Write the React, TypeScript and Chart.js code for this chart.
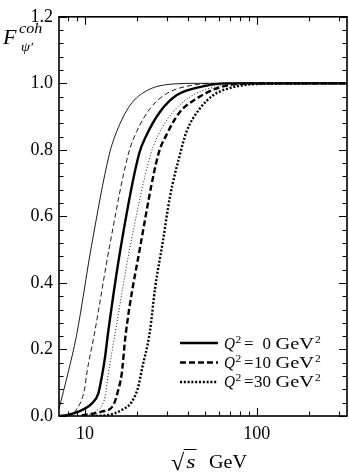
import React, { useEffect, useRef } from 'react';
import { Chart, registerables } from 'chart.js';
Chart.register(...registerables);

// ---- data (sqrt(s) in GeV, coherent form factor F) ----
const sThinSolid = [7.06, 7.94, 8.95, 10.9, 13.85, 15.3, 18.3, 22.9, 32.6, 45, 100, 335];
const fThinSolid = [0.022, 0.126, 0.245, 0.51, 0.786, 0.855, 0.934, 0.978, 0.998, 1.0, 1.0, 1.0];

const sThinDashed = [7.06, 8.2, 8.75, 10.0, 10.23, 11.33, 13.9, 17.85, 20.0, 23.9, 29.8, 40.8, 60, 335];
const fThinDashed = [0.0, 0.003, 0.013, 0.087, 0.126, 0.245, 0.51, 0.786, 0.855, 0.924, 0.969, 0.993, 1.0, 1.0];

const sThickSolid = [7.06, 7.96, 9.14, 10.94, 11.95, 12.51, 13.07, 13.66, 16.13, 20.6, 22.85, 27.3, 34.1, 48.5, 66.6, 335];
const fThickSolid = [0.0, 0.003, 0.013, 0.037, 0.067, 0.116, 0.175, 0.254, 0.505, 0.786, 0.845, 0.914, 0.964, 0.991, 1.0, 1.0];

const sThinDotted = [9.8, 11.43, 13.07, 13.66, 14.94, 18.26, 24.1, 27.3, 32.6, 40.8, 55.7, 90, 335];
const fThinDotted = [0.0, 0.013, 0.057, 0.126, 0.245, 0.505, 0.786, 0.855, 0.914, 0.959, 0.988, 1.0, 1.0];

const sThickDashed = [9.57, 12.51, 14.6, 15.6, 16.35, 17.25, 20.9, 26.7, 29.8, 35.7, 44.6, 60.9, 100, 335];
const fThickDashed = [0.002, 0.013, 0.032, 0.077, 0.126, 0.245, 0.505, 0.786, 0.845, 0.914, 0.954, 0.988, 1.0, 1.0];

const sThickDotted = [11.0, 13.6, 16.35, 18.68, 20.4, 21.44, 23.87, 25.6, 28.3, 31.2, 35.7, 39.0, 46.6, 55.7, 66.6, 100, 335];
const fThickDotted = [0.0, 0.003, 0.018, 0.042, 0.087, 0.14, 0.254, 0.385, 0.52, 0.658, 0.786, 0.855, 0.924, 0.964, 0.983, 0.998, 1.0];

const legendQ2 = ['0', '10', '30'];

const xMin = 7.06;
const xMax = 335;
const xMajorTicks = [10, 100];
const xMinorTicks = [8, 9, 20, 30, 40, 50, 60, 70, 80, 90, 200, 300];
const yMajorTicks = [0, 0.2, 0.4, 0.6, 0.8, 1.0, 1.2];
const yMinorPerMajor = 5;

const FONT = "'Liberation Serif', 'DejaVu Serif', serif";

const pts = (xs: number[], ys: number[]) => xs.map((x, i) => ({ x, y: ys[i] }));

const yAllTicks: number[] = [];
for (let i = 0; i < yMajorTicks.length - 1; i++) {
  const a = yMajorTicks[i], b = yMajorTicks[i + 1];
  for (let k = 0; k < yMinorPerMajor; k++) yAllTicks.push(a + ((b - a) * k) / yMinorPerMajor);
}
yAllTicks.push(yMajorTicks[yMajorTicks.length - 1]);
const xAllTicks = [...xMinorTicks, ...xMajorTicks].sort((a, b) => a - b);

const isYMajor = (v: number) => Math.abs(v / 0.2 - Math.round(v / 0.2)) < 1e-6;

function textWidth(ctx: CanvasRenderingContext2D, text: string, font: string) {
  ctx.save();
  ctx.font = font;
  const w = ctx.measureText(text).width;
  ctx.restore();
  return w;
}

function drawStretched(ctx: CanvasRenderingContext2D, text: string, x: number, y: number, font: string, sx = 1.2) {
  ctx.save();
  ctx.font = font;
  ctx.translate(x, y);
  ctx.scale(sx, 1);
  ctx.fillText(text, 0, 0);
  const w = ctx.measureText(text).width * sx;
  ctx.restore();
  return w;
}

function drawFit(ctx: CanvasRenderingContext2D, text: string, x: number, y: number, font: string, width: number) {
  const w = textWidth(ctx, text, font);
  return drawStretched(ctx, text, x, y, font, width / w);
}

const framePlugin = {
  id: 'frameTicks',
  afterDatasetsDraw(chart: any) {
    const { ctx, chartArea: a, scales } = chart;
    const xs = scales.x, ys = scales.y;
    ctx.save();
    ctx.strokeStyle = '#000';
    ctx.lineWidth = 1.1;
    ctx.beginPath();
    xs.ticks.forEach((t: any) => {
      const px = Math.round(xs.getPixelForValue(t.value)) + 0.5;
      const len = xMajorTicks.includes(t.value) ? 8 : 4.5;
      ctx.moveTo(px, a.bottom); ctx.lineTo(px, a.bottom - len);
      ctx.moveTo(px, a.top); ctx.lineTo(px, a.top + len);
    });
    ys.ticks.forEach((t: any) => {
      const py = Math.round(ys.getPixelForValue(t.value)) + 0.5;
      const len = isYMajor(t.value) ? 8 : 4.5;
      ctx.moveTo(a.left, py); ctx.lineTo(a.left + len, py);
      ctx.moveTo(a.right, py); ctx.lineTo(a.right - len, py);
    });
    ctx.stroke();
    ctx.lineWidth = 1.6;
    ctx.strokeRect(a.left, a.top, a.right - a.left, a.bottom - a.top);
    ctx.restore();
  },
  afterDraw(chart: any) {
    const { ctx } = chart;
    ctx.save();
    ctx.fillStyle = '#000';
    ctx.textBaseline = 'alphabetic';
    // y-axis title F^{coh}_{psi'}
    drawStretched(ctx, 'F', 3, 44, `italic 20px ${FONT}`, 1.1);
    drawStretched(ctx, 'coh', 19, 33, `italic 14px ${FONT}`, 1.15);
    drawStretched(ctx, 'ψ′', 21, 51, `italic 13px ${FONT}`, 1.1);

    // x-axis title sqrt(s) GeV
    const base = 468;
    const x0 = 171;
    const wr = drawStretched(ctx, '√', x0, base + 2, `23px ${FONT}`, 1.05);
    const sx = x0 + wr;
    const ws = drawStretched(ctx, 's', sx + 2, base, `italic 19px ${FONT}`, 1.25);
    ctx.strokeStyle = '#000';
    ctx.lineWidth = 1;
    ctx.beginPath();
    ctx.moveTo(sx - 0.5, base - 18.5);
    ctx.lineTo(sx + ws + 3, base - 18.5);
    ctx.stroke();
    drawFit(ctx, 'GeV', 209, base, `19px ${FONT}`, 38);

    // legend (thick curves)
    const rows = [3, 4, 5];
    const lineY = [343, 362.5, 382];
    const textY = [348.5, 367.5, 386.5];
    rows.forEach((di, i) => {
      const ds = chart.data.datasets[di];
      const y = lineY[i];
      ctx.save();
      ctx.strokeStyle = '#000';
      ctx.lineWidth = ds.borderWidth;
      ctx.setLineDash(ds.borderDash || []);
      ctx.beginPath();
      ctx.moveTo(180, y);
      ctx.lineTo(218, y);
      ctx.stroke();
      ctx.restore();
      const by = textY[i];
      drawFit(ctx, 'Q', 224, by, `italic 16px ${FONT}`, 11);
      drawStretched(ctx, '2', 235.5, by - 5.5, `11px ${FONT}`, 1.05);
      drawFit(ctx, '=', 244, by, `16px ${FONT}`, 9.5);
      const label = legendQ2[i];
      const lw = textWidth(ctx, label, `16px ${FONT}`) * 1.06;
      drawStretched(ctx, label, 271 - lw, by, `16px ${FONT}`, 1.06);
      drawFit(ctx, 'GeV', 275.5, by, `16px ${FONT}`, 38.5);
      drawStretched(ctx, '2', 315, by - 5.5, `11px ${FONT}`, 1.05);
    });
    ctx.restore();
  },
};

export default function App() {
  const ref = useRef<HTMLCanvasElement>(null);
  useEffect(() => {
    if (!ref.current) return;
    Chart.defaults.font.family = FONT;
    Chart.defaults.color = '#000';
    const line = (data: any, width: number, dash: number[]) => ({
      data,
      borderColor: '#000',
      backgroundColor: '#000',
      borderWidth: width,
      borderDash: dash,
      pointRadius: 0,
      fill: false,
      cubicInterpolationMode: 'monotone' as const,
    });
    const chart = new Chart(ref.current, {
      type: 'line',
      data: {
        datasets: [
          line(pts(sThinSolid, fThinSolid), 0.9, []),
          line(pts(sThinDashed, fThinDashed), 0.9, [5, 3]),
          line(pts(sThinDotted, fThinDotted), 0.9, [1, 2]),
          line(pts(sThickSolid, fThickSolid), 2.4, []),
          line(pts(sThickDashed, fThickDashed), 2.4, [6, 3]),
          line(pts(sThickDotted, fThickDotted), 2.4, [2, 1.8]),
        ],
      },
      options: {
        responsive: false,
        animation: false,
        devicePixelRatio: 1,
        layout: { padding: { top: 10, right: 2, left: 0, bottom: 0 } },
        plugins: { legend: { display: false }, tooltip: { enabled: false }, title: { display: false } },
        scales: {
          x: {
            type: 'logarithmic',
            min: xMin,
            max: xMax,
            grid: { display: false, drawTicks: false },
            border: { display: false },
            afterBuildTicks: (scale: any) => {
              scale.ticks = xAllTicks.map((v) => ({ value: v }));
            },
            afterFit: (scale: any) => {
              scale.height = 59;
            },
            ticks: {
              autoSkip: false,
              maxRotation: 0,
              minRotation: 0,
              padding: 7,
              font: { size: 18, family: FONT },
              color: '#000',
              callback: (v: any) => (xMajorTicks.includes(Number(v)) ? String(v) : ''),
            },
          },
          y: {
            type: 'linear',
            min: 0,
            max: 1.2,
            grid: { display: false, drawTicks: false },
            border: { display: false },
            afterBuildTicks: (scale: any) => {
              scale.ticks = yAllTicks.map((v) => ({ value: v }));
            },
            afterFit: (scale: any) => {
              scale.width = 59;
            },
            ticks: {
              autoSkip: false,
              padding: 6,
              font: { size: 18, family: FONT },
              color: '#000',
              callback: (v: any) => (isYMajor(Number(v)) ? Number(v).toFixed(1) : ''),
            },
          },
        },
      },
      plugins: [framePlugin],
    } as any);
    return () => chart.destroy();
  }, []);
  return (
    <div style={{ position: 'absolute', left: 0, top: 0, width: 349, height: 475, background: '#fff' }}>
      <canvas ref={ref} width={349} height={475} style={{ display: 'block', width: 349, height: 475 }} />
    </div>
  );
}
